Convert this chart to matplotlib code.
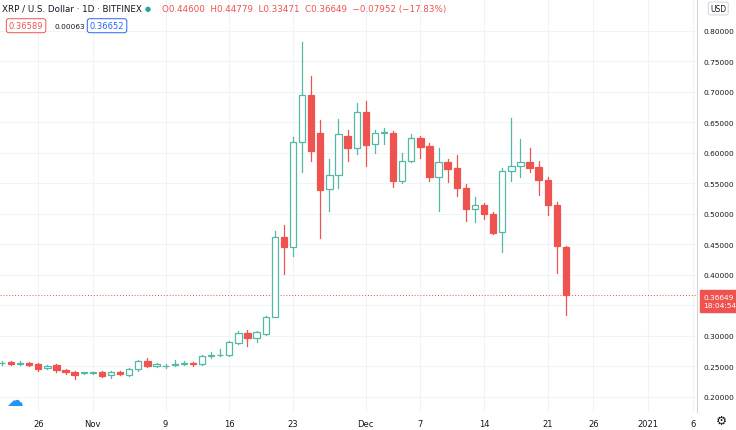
import matplotlib
matplotlib.use("Agg")
import matplotlib.pyplot as plt
from matplotlib.patches import Rectangle
import numpy as np

# Daily candles Oct 22 2020 .. Dec 23 2020 (index 0 = Oct 22)
opens  = [.255,.257,.254,.255,.253,.247,.252,.244,.241,.239,.239,.240,.235,.240,.236,.245,.258,.251,.250,.252,.254,.256,.254,.266,.268,.269,.288,.304,.297,.303,
          .331,.462,.446,.618,.695,.633,.541,.564,.628,.608,.667,.615,.633,.633,.554,.587,.624,.611,.561,.585,.575,.543,.508,.514,.500,.470,.570,.579,.584,.577,.556,.515,.446]
closes = [.256,.254,.256,.252,.246,.250,.244,.241,.236,.240,.239,.234,.240,.238,.245,.259,.251,.254,.251,.254,.256,.254,.266,.268,.269,.290,.305,.296,.306,.331,
          .462,.446,.618,.694,.603,.539,.564,.630,.608,.667,.613,.633,.634,.554,.587,.624,.610,.561,.585,.574,.543,.508,.515,.499,.469,.570,.579,.584,.575,.556,.515,.447,.3665]
highs  = [.258,.259,.258,.257,.256,.252,.254,.246,.243,.241,.241,.242,.242,.242,.247,.261,.263,.256,.254,.260,.258,.257,.268,.274,.278,.291,.307,.310,.308,.333,
          .471,.482,.625,.782,.726,.654,.590,.655,.638,.682,.685,.638,.641,.636,.600,.630,.628,.616,.607,.590,.596,.548,.528,.518,.503,.575,.657,.623,.607,.586,.560,.520,.4478]
lows   = [.252,.252,.252,.250,.243,.246,.241,.238,.229,.238,.238,.232,.231,.236,.234,.243,.249,.249,.247,.250,.252,.251,.252,.264,.266,.267,.286,.283,.289,.301,
          .330,.402,.431,.569,.587,.461,.505,.543,.586,.598,.579,.599,.614,.544,.550,.585,.592,.553,.505,.552,.529,.488,.486,.492,.467,.438,.554,.561,.569,.531,.498,.403,.3347]

price_ticks = [0.20,0.25,0.30,0.35,0.40,0.45,0.50,0.55,0.60,0.65,0.70,0.75,0.80]
date_ticks_idx = [4,10,18,25,32,40,46,53,60,65,71,76]
date_tick_labels = ["26","Nov","9","16","23","Dec","7","14","21","26","2021","6"]
last_price = 0.36649

UP = "#53b9a6"; DN = "#ef5350"; GRID = "#f0f3fa"; TXT = "#131722"

fig = plt.figure(figsize=(7.36, 4.31), dpi=100)
ax = fig.add_axes([0, 18/431, 697/736, 1 - 18/431])
ax.set_xlim(-0.2, 76.4)
ax.set_ylim(0.175, 0.852)
ax.set_yticks(price_ticks)
ax.set_yticklabels([f"{p:.5f}" if p != 0.35 else "" for p in price_ticks])
ax.yaxis.tick_right()
ax.set_xticks(date_ticks_idx)
ax.set_xticklabels(date_tick_labels)
ax.tick_params(axis="both", length=0, labelsize=6, colors=TXT, pad=5)
ax.tick_params(axis="y", labelsize=5.3, pad=5)
ax.grid(True, color=GRID, lw=0.8)
ax.set_axisbelow(True)
for s in ["top", "left", "bottom"]:
    ax.spines[s].set_visible(False)
ax.spines["right"].set_color("#d1d4dc")

w = 0.7
for i, (o, h, l, c) in enumerate(zip(opens, highs, lows, closes)):
    up = c >= o
    col = UP if up else DN
    lo, hi = min(o, c), max(o, c)
    ax.plot([i, i], [l, lo], color=col, lw=0.9, zorder=2)
    ax.plot([i, i], [hi, h], color=col, lw=0.9, zorder=2)
    ax.add_patch(Rectangle((i - w/2, lo), w, max(hi - lo, 0.0008),
                           facecolor="white" if up else col, edgecolor=col, lw=0.9, zorder=3))

ax.axhline(last_price, color=DN, lw=0.7, ls=(0, (1, 2)), zorder=1)
fig.text(0.956, 1 - 302/431, "0.36649\n18:04:54", fontsize=5.3, color="white",
         va="center", ha="left", linespacing=1.6,
         bbox=dict(boxstyle="square,pad=0.45", fc=DN, ec=DN))

fig.text(0.003, 0.978, "XRP / U.S. Dollar · 1D · BITFINEX", fontsize=6.3, color=TXT, va="center")
fig.text(0.197, 0.978, "●", fontsize=5, color="#26a69a", va="center")
fig.text(0.22, 0.978, "O0.44600  H0.44779  L0.33471  C0.36649  −0.07952 (−17.83%)",
         fontsize=6.3, color=DN, va="center")
fig.text(0.012, 0.938, "0.36589", fontsize=6, color=DN, va="center",
         bbox=dict(boxstyle="round,pad=0.3", fc="white", ec=DN, lw=0.7))
fig.text(0.074, 0.938, "0.00063", fontsize=5.3, color=TXT, va="center")
fig.text(0.122, 0.938, "0.36652", fontsize=6, color="#2962ff", va="center",
         bbox=dict(boxstyle="round,pad=0.3", fc="white", ec="#2962ff", lw=0.7))
fig.text(0.965, 0.978, "USD", fontsize=5.5, color=TXT, va="center",
         bbox=dict(boxstyle="round,pad=0.25", fc="white", ec="#d1d4dc", lw=0.7))
fig.text(0.98, 0.022, "⚙", fontsize=9, color=TXT, va="center", ha="center")
fig.text(0.02, 0.07, "☁", fontsize=12, color="#2196f3", va="center", ha="center")

fig.savefig("out.png", dpi=100, facecolor="white")
